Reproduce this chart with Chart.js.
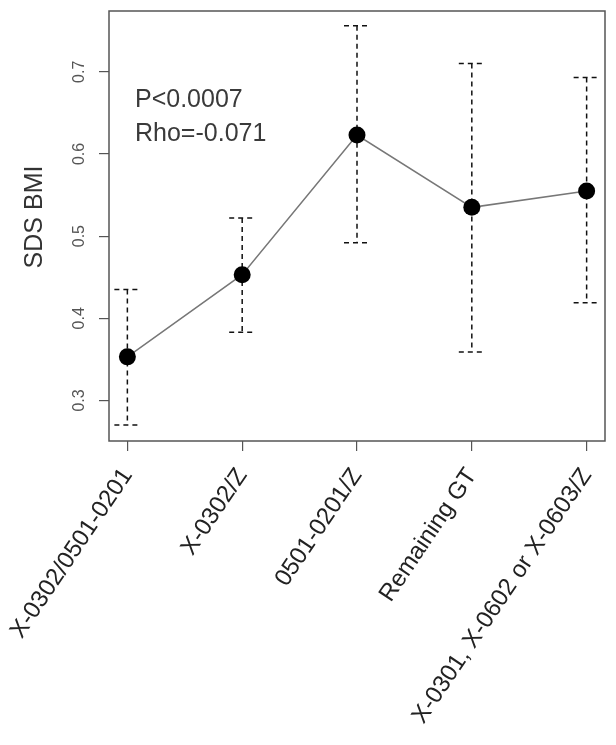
<!DOCTYPE html>
<html>
<head>
<meta charset="utf-8">
<script src="https://cdn.jsdelivr.net/npm/chart.js@4/dist/chart.umd.min.js"></script>
<style>
  body { margin: 0; background: #fff; }
  #wrap { width: 616px; height: 745px; position: relative; }
</style>
</head>
<body>
<div id="wrap"><canvas id="c"></canvas></div>
<script>
const groups = ['X-0302/0501-0201', 'X-0302/Z', '0501-0201/Z', 'Remaining GT', 'X-0301, X-0602 or X-0603/Z'];
const sdsBmi = [0.353, 0.453, 0.623, 0.535, 0.555];
const upper = [0.435, 0.522, 0.756, 0.710, 0.693];
const lower = [0.270, 0.383, 0.492, 0.359, 0.419];
const yTicks = [0.3, 0.4, 0.5, 0.6, 0.7];
const notes = ['P<0.0007', 'Rho=-0.071'];

const FONT = '"Liberation Sans", Arial, sans-serif';

// dashed error bars, drawn under the points
const errorBars = {
  id: 'errorBars',
  beforeDatasetsDraw(chart) {
    const { ctx, scales: { x, y } } = chart;
    ctx.save();
    ctx.strokeStyle = '#111';
    ctx.lineWidth = 1.5;
    ctx.setLineDash([5, 4]);
    sdsBmi.forEach((v, i) => {
      const px = x.getPixelForValue(i);
      const top = y.getPixelForValue(upper[i]);
      const bot = y.getPixelForValue(lower[i]);
      ctx.beginPath();
      ctx.moveTo(px, top); ctx.lineTo(px, bot);
      ctx.moveTo(px - 13, top); ctx.lineTo(px + 13, top);
      ctx.moveTo(px - 13, bot); ctx.lineTo(px + 13, bot);
      ctx.stroke();
    });
    ctx.restore();
  }
};

// box, rotated y tick labels, axis title and the stats text
const extras = {
  id: 'extras',
  afterDraw(chart) {
    const { ctx, chartArea: a, scales: { y } } = chart;
    ctx.save();
    ctx.strokeStyle = '#555';
    ctx.lineWidth = 1.5;
    ctx.strokeRect(a.left, a.top, a.right - a.left, a.bottom - a.top);

    ctx.fillStyle = '#555';
    ctx.font = '16px ' + FONT;
    ctx.textAlign = 'center';
    ctx.textBaseline = 'middle';
    y.ticks.forEach(t => {
      ctx.save();
      ctx.translate(80, y.getPixelForValue(t.value));
      ctx.rotate(-Math.PI / 2);
      ctx.fillText(t.value.toFixed(1), 0, 0);
      ctx.restore();
    });

    ctx.fillStyle = '#333';
    ctx.font = '25px ' + FONT;
    ctx.save();
    ctx.translate(35, 217);
    ctx.rotate(-Math.PI / 2);
    ctx.fillText('SDS BMI', 0, 0);
    ctx.restore();

    ctx.textAlign = 'left';
    ctx.textBaseline = 'alphabetic';
    ctx.fillStyle = '#3a3a3a';
    notes.forEach((s, i) => ctx.fillText(s, 135, 107 + i * 34));
    ctx.restore();
  }
};

new Chart(document.getElementById('c'), {
  type: 'line',
  data: {
    datasets: [{
      data: sdsBmi.map((v, i) => ({ x: i, y: v })),
      borderColor: '#777',
      borderWidth: 1.5,
      tension: 0,
      pointRadius: 8.5,
      pointBackgroundColor: '#000',
      pointBorderColor: '#000',
      pointBorderWidth: 0
    }]
  },
  options: {
    responsive: true,
    maintainAspectRatio: false,
    animation: false,
    layout: { padding: { top: 11, right: 11, left: 0, bottom: 0 } },
    plugins: { legend: { display: false }, tooltip: { enabled: false } },
    scales: {
      x: {
        type: 'linear',
        min: -0.16,
        max: 4.16,
        afterBuildTicks: s => { s.ticks = groups.map((g, i) => ({ value: i })); },
        afterFit: s => { s.height = 304; s.paddingLeft = 0; s.paddingRight = 0; },
        grid: { drawOnChartArea: false, tickLength: 10, color: '#555', lineWidth: 1.2 },
        border: { display: false },
        ticks: {
          autoSkip: false,
          minRotation: 56,
          maxRotation: 56,
          padding: 12,
          color: '#222',
          font: { family: FONT, size: 24 },
          callback: v => groups[v]
        }
      },
      y: {
        min: 0.2506,
        max: 0.774,
        afterBuildTicks: s => { s.ticks = yTicks.map(v => ({ value: v })); },
        afterFit: s => { s.width = 109; },
        grid: { drawOnChartArea: false, tickLength: 10, color: '#555', lineWidth: 1.2 },
        border: { display: false },
        ticks: { display: false }
      }
    }
  },
  plugins: [errorBars, extras]
});
</script>
</body>
</html>
